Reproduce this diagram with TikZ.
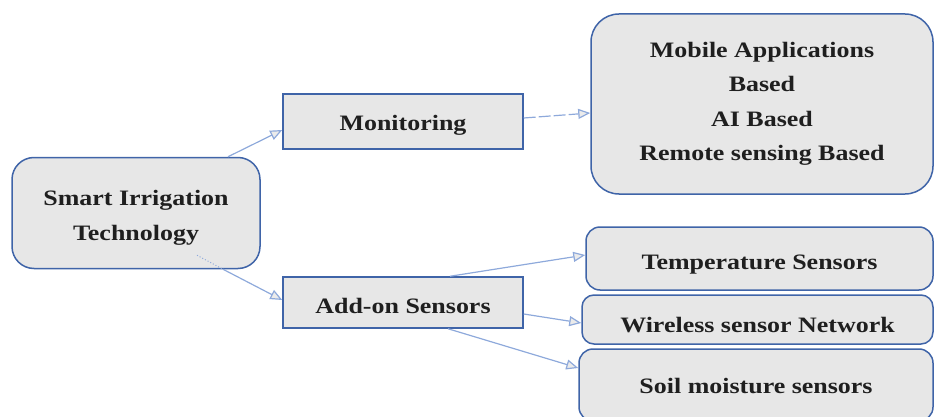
\documentclass[tikz,border=0pt]{standalone}
\usepackage{fontspec}
\setmainfont{Liberation Serif}[FakeStretch=1.18]
\usetikzlibrary{arrows.meta,calc}
\definecolor{boxblue}{HTML}{3F64A8}
\definecolor{arrblue}{HTML}{8EA9DB}
\definecolor{boxfill}{HTML}{E7E7E7}
\begin{document}
\begin{tikzpicture}[x=1pt,y=-1pt,
  base/.style={draw=boxblue,line width=1.5pt,fill=boxfill,inner sep=0pt},
  rbox/.style={base,rounded corners=22pt},
  sbox/.style={base},
  txt/.style={align=center,inner sep=0pt,font=\fontsize{22}{34.5}\selectfont\bfseries,text=black!88},
  arr/.style={draw=arrblue,line width=1.2pt,-{Triangle[length=12pt,width=10pt,fill=black!8]}}]
\useasboundingbox (0,0) rectangle (934,417);
\node[rbox,minimum width=248pt,minimum height=111pt] (si) at (136,213) {};
\node[sbox,minimum width=240pt,minimum height=55pt] (mon) at (403,121.5) {};
\node[sbox,minimum width=240pt,minimum height=51pt] (add) at (403,302.5) {};
\node[rbox,rounded corners=28pt,minimum width=342pt,minimum height=180pt] (big) at (762,104) {};
\node[rbox,rounded corners=14pt,minimum width=347pt,minimum height=63pt] (temp) at (759.5,258.5) {};
\node[rbox,rounded corners=12pt,minimum width=351pt,minimum height=49pt] (wsn) at (757.5,319.5) {};
\node[rbox,rounded corners=14pt,minimum width=354pt,minimum height=72pt] (soil) at (756,385) {};
\node[txt] (sit) at ($(si)+(0,5)$) {Smart Irrigation\\Technology};
\node[txt] (mont) at ($(mon)+(0,4)$) {Monitoring};
\node[txt] (addt) at ($(add)+(0,3)$) {Add-on Sensors};
\node[txt] (bigt) at (big) {Mobile Applications\\Based\\AI Based\\Remote sensing Based};
\node[txt] (tempt) at ($(temp)+(0,6)$) {Temperature Sensors};
\node[txt] (wsnt) at ($(wsn)+(0,6)$) {Wireless sensor Network};
\node[txt] (soilt) at ($(soil)+(0,1)$) {Soil moisture sensors};
\draw[arr] ($(si.north)+(92,0)$) -- ($(mon.west)+(0,8.5)$);
\draw[arrblue,line width=1pt,dotted] ($(si.south)+(61,-14)$) -- ($(si.south)+(87,0)$);
\draw[arr] ($(si.south)+(87,0)$) -- ($(add.west)+(0,-2.5)$);
\draw[arr,dash pattern=on 12pt off 3pt] ($(mon.east)+(0,-3.5)$) -- ($(big.west)+(0,9)$);
\draw[arr] ($(add.north)+(47,0)$) -- ($(temp.west)+(0,-3.5)$);
\draw[arr] ($(add.east)+(0,11.5)$) -- ($(wsn.west)+(0,3.5)$);
\draw[arr] ($(add.south)+(45,0)$) -- ($(soil.west)+(0,-17)$);
\end{tikzpicture}
\end{document}
